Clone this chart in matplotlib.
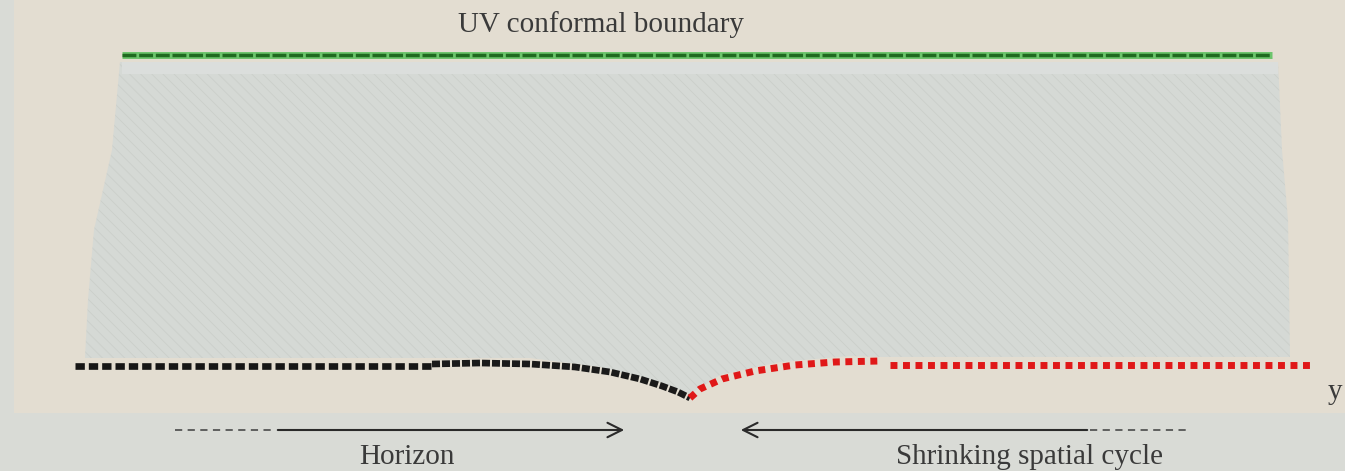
import matplotlib.pyplot as plt
from matplotlib.patches import Polygon, Rectangle

# ---- schematic geometry (picture units: x to the right, z downwards) ----
uv_x = [122, 1272]
uv_z = [55, 55]

# horizon side (black): flat part, then bending down to the tip
horizon_flat_x = [75, 432]
horizon_flat_z = [366, 366]
horizon_curve_x = [432, 480, 530, 575, 610, 640, 662, 678, 690]
horizon_curve_z = [364, 363, 364, 367, 372, 379, 386, 392, 398]

# shrinking cycle side (red): rising from the tip, then flat
cycle_curve_x = [690, 700, 722, 755, 795, 835, 880]
cycle_curve_z = [398, 389, 379, 371, 365, 362, 361]
cycle_flat_x = [890, 1310]
cycle_flat_z = [365, 365]

# bulk region outline
bulk_x = [122, 1278, 1282, 1288, 1290, 880, 850, 780, 720, 690, 660, 600, 530, 430, 85, 88, 94, 112, 120]
bulk_z = [62, 62, 150, 220, 357, 357, 356, 362, 375, 394, 382, 367, 358, 358, 358, 300, 230, 150, 62]

labels = ["UV conformal boundary", "Horizon", "Shrinking spatial cycle", "y"]

bg = '#e3ddd1'
fig = plt.figure(figsize=(13.45, 4.71), dpi=100, facecolor=bg)
ax = fig.add_axes([0, 0, 1, 1])
ax.set_xlim(0, 1345)
ax.set_ylim(471, 0)
ax.axis('off')
ax.set_facecolor(bg)

# grey margins of the scanned page
ax.add_patch(Rectangle((0, 413), 1345, 60, color='#d9dbd6', lw=0, zorder=0))
ax.add_patch(Rectangle((0, 0), 14, 413, color='#d9dbd6', lw=0, zorder=0))

# bulk
plt.rcParams['hatch.linewidth'] = 0.6
ax.add_patch(Polygon(list(zip(bulk_x, bulk_z)), closed=True, facecolor='#d5d9d5',
                     edgecolor='#cbcfca', lw=0, hatch='\\\\\\', zorder=1))
ax.add_patch(Rectangle((122, 62), 1156, 12, color='#dbdedc', lw=0, zorder=1))

# UV boundary
ax.plot(uv_x, uv_z, color='#6cc46c', lw=5, solid_capstyle='butt', zorder=3)
ax.plot(uv_x, uv_z, color='#1f6a1f', lw=2.5, ls=(0, (4, 0.8)), zorder=4)

# horizon (black)
ax.plot(horizon_flat_x, horizon_flat_z, color='#161616', lw=4.8, ls=(0, (1.4, 0.6)), zorder=4)
ax.plot(horizon_curve_x, horizon_curve_z, color='#1a1a1a', lw=4.8, ls=(0, (1.2, 0.3)), zorder=4)

# shrinking cycle (red)
ax.plot(cycle_curve_x, cycle_curve_z, color='#e01818', lw=5, ls=(0, (1, 0.8)), zorder=4)
ax.plot(cycle_flat_x, cycle_flat_z, color='#e01818', lw=5, ls=(0, (1, 0.8)), zorder=4)

# arrows underneath
ax.plot([175, 275], [430, 430], color='#555555', lw=1.3, ls=(0, (4, 3)), zorder=4)
ax.annotate('', xy=(627, 430), xytext=(275, 430),
            arrowprops=dict(arrowstyle='->', color='#2a2a2a', lw=1.5, mutation_scale=26))
ax.plot([1090, 1190], [430, 430], color='#555555', lw=1.3, ls=(0, (4, 3)), zorder=4)
ax.annotate('', xy=(738, 430), xytext=(1090, 430),
            arrowprops=dict(arrowstyle='->', color='#2a2a2a', lw=1.5, mutation_scale=26))

serif = ['Liberation Serif', 'DejaVu Serif']
tc = '#3a3a3a'
ax.text(601, 25, labels[0], ha='center', va='center', fontsize=21, family=serif, color=tc)
ax.text(407, 457, labels[1], ha='center', va='center', fontsize=21, family=serif, color=tc)
ax.text(1029, 457, labels[2], ha='center', va='center', fontsize=21, family=serif, color=tc)
ax.text(1328, 392, labels[3], ha='left', va='center', fontsize=21, family=serif, color=tc)

fig.savefig('out.png', dpi=100, facecolor=bg)
